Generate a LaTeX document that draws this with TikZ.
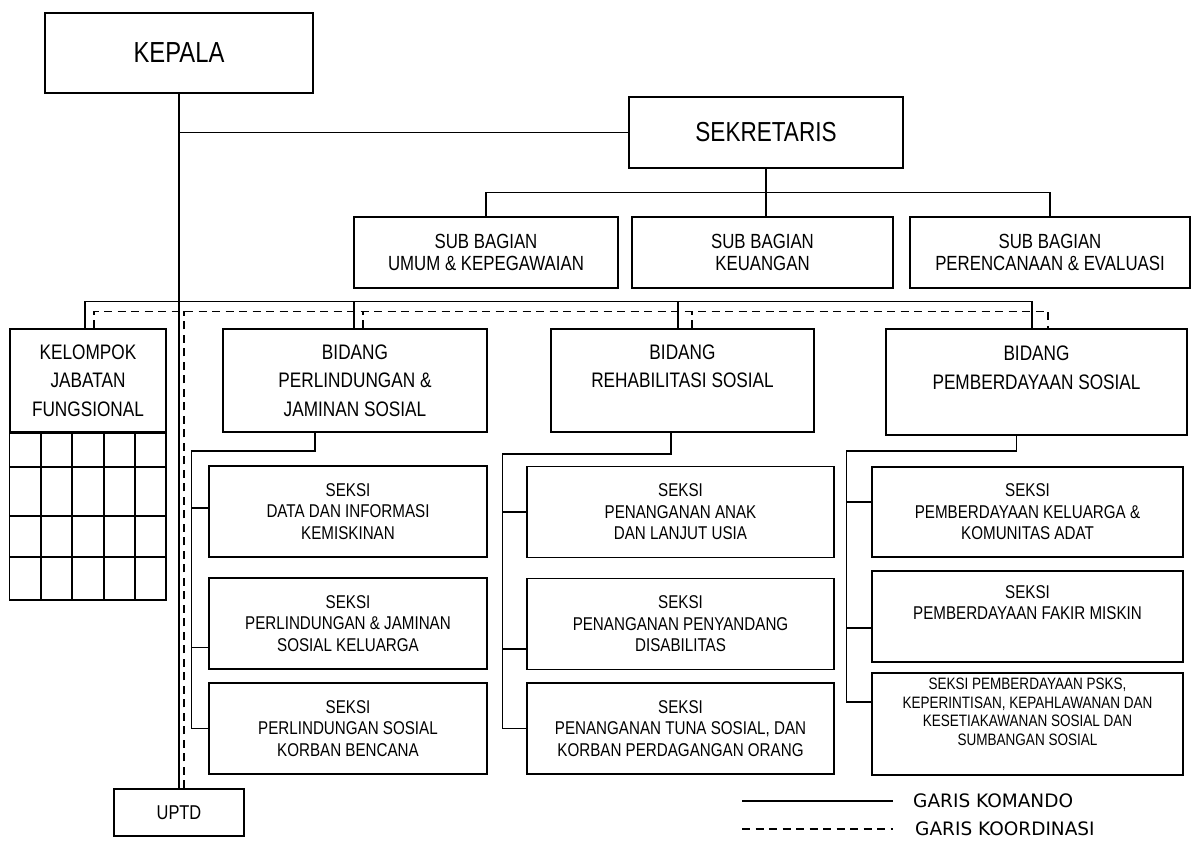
\documentclass[tikz,border=0pt]{standalone}
\usepackage{fontspec}
\setmainfont[FakeStretch=0.82]{Liberation Sans}
\newfontfamily\legfont{DejaVu Sans}
\usetikzlibrary{positioning}

\tikzset{
  box/.style={draw, line width=1.5pt, align=center, inner sep=0pt},
  kom/.style={line width=1.5pt},
  koor/.style={line width=1.5pt, dash pattern=on 8pt off 5.5pt},
  subbox/.style={box, minimum height=71pt, font=\fontsize{20.5}{22}\selectfont},
  bidbox/.style={box, minimum height=103pt, font=\fontsize{21}{28.5}\selectfont},
  sekbox/.style={box, minimum height=91pt, font=\fontsize{18.5}{21.5}\selectfont},
  legtext/.style={inner sep=0pt, font=\legfont\fontsize{18.5}{20}\selectfont}
}

\begin{document}
\begin{tikzpicture}[x=1pt,y=-1pt]
\useasboundingbox (0,0) rectangle (1194,841);

% pimpinan
\node[box, minimum width=268pt, minimum height=80pt, font=\fontsize{29}{30}\selectfont] (kepala) at (179,53) {KEPALA};
\node[box, minimum width=274pt, minimum height=71pt, font=\fontsize{27.5}{30}\selectfont] (sekr) at (766,132.5) {SEKRETARIS};

% sub bagian
\node[subbox, minimum width=264pt] (umum) at (486,252.5) {SUB BAGIAN\\UMUM \& KEPEGAWAIAN};
\node[subbox, minimum width=261pt] (keu) at (762.5,252.5) {SUB BAGIAN\\KEUANGAN};
\node[subbox, minimum width=280pt] (renc) at (1050,252.5) {SUB BAGIAN\\PERENCANAAN \& EVALUASI};

% bidang
\node[bidbox, minimum width=156pt] (kel) at (88,380.5) {KELOMPOK\\JABATAN\\FUNGSIONAL};
\node[bidbox, minimum width=264pt] (perl) at (355,380.5) {BIDANG\\PERLINDUNGAN \&\\JAMINAN SOSIAL};
\node[bidbox, minimum width=263pt] (rehab) at (682.5,380.5) {BIDANG\\REHABILITASI SOSIAL\\\rule{0pt}{1pt}};
\node[bidbox, minimum width=301pt, minimum height=106pt] (pemb) at (1036.5,382) {BIDANG\\PEMBERDAYAAN SOSIAL\\\rule{0pt}{1pt}};

% seksi
\node[sekbox, minimum width=278pt] (sA1) at (348,511.5) {SEKSI\\DATA DAN INFORMASI\\KEMISKINAN};
\node[sekbox, minimum width=278pt] (sA2) at (348,623.5) {SEKSI\\PERLINDUNGAN \& JAMINAN\\SOSIAL KELUARGA};
\node[sekbox, minimum width=278pt] (sA3) at (348,728.5) {SEKSI\\PERLINDUNGAN SOSIAL\\KORBAN BENCANA};
\node[sekbox, minimum width=307pt] (sB1) at (680.5,512) {SEKSI\\PENANGANAN ANAK\\DAN LANJUT USIA};
\node[sekbox, minimum width=307pt] (sB2) at (680.5,624) {SEKSI\\PENANGANAN PENYANDANG\\DISABILITAS};
\node[sekbox, minimum width=307pt] (sB3) at (680.5,728.5) {SEKSI\\PENANGANAN TUNA SOSIAL, DAN\\KORBAN PERDAGANGAN ORANG};
\node[sekbox, minimum width=311pt, minimum height=90pt] (sC1) at (1027.5,512) {SEKSI\\PEMBERDAYAAN KELUARGA \&\\KOMUNITAS ADAT};
\node[sekbox, minimum width=311pt] (sC2) at (1027.5,616.5) {SEKSI\\PEMBERDAYAAN FAKIR MISKIN\\\strut};
\node[sekbox, minimum width=311pt, minimum height=102pt, font=\fontsize{16.5}{18.5}\selectfont] (sC3) at (1027.5,724) {SEKSI PEMBERDAYAAN PSKS,\\KEPERINTISAN, KEPAHLAWANAN DAN\\KESETIAKAWANAN SOSIAL DAN\\SUMBANGAN SOSIAL\\\strut};

\node[box, minimum width=130pt, minimum height=47pt, font=\fontsize{20}{22}\selectfont] (uptd) at (179,812.5) {UPTD};

% kotak jabatan fungsional
\draw[kom] (kel.south west) rectangle (166,600);
\foreach \gx in {41,72,104,135}
  \draw[kom] (\gx,432) -- (\gx,600);
\foreach \gy in {467,516,557}
  \draw[kom] (10,\gy) -- (166,\gy);

% garis komando
\draw[kom] (kepala) -- (uptd);
\draw[kom] (kepala.south |- sekr.west) -- (sekr.west);
\draw[kom] (sekr.south) -- (sekr.south |- keu.north);
\draw[kom] (umum.north) -- ++(0,-24) -| (renc.north);
\draw[kom] ([xshift=-3pt]kel.north) -- ++(0,-27) -| ([xshift=-4.5pt]pemb.north);
\draw[kom] ([xshift=-1pt]perl.north) -- ++(0,-27);
\draw[kom] ([xshift=-4.5pt]rehab.north) -- ++(0,-27);

\draw[kom] ([xshift=-40pt]perl.south) -- ++(0,18) -| ([xshift=-17pt]sA3.west) -- (sA3.west);
\draw[kom] ([xshift=-17pt,yshift=3.5pt]sA1.west) -- ([yshift=3.5pt]sA1.west);
\draw[kom] ([xshift=-17pt,yshift=-24pt]sA2.west) -- ([yshift=-24pt]sA2.west);

\draw[kom] ([xshift=-11.5pt]rehab.south) -- ++(0,21) -| ([xshift=-24pt]sB3.west) -- (sB3.west);
\draw[kom] ([xshift=-24pt]sB1.west) -- (sB1.west);
\draw[kom] ([xshift=-24pt,yshift=-25pt]sB2.west) -- ([yshift=-25pt]sB2.west);

\draw[kom] ([xshift=-20pt]pemb.south) -- ++(0,15) -| ([xshift=-25pt,yshift=22pt]sC3.west) -- ([yshift=22pt]sC3.west);
\draw[kom] ([xshift=-25pt,yshift=10pt]sC1.west) -- ([yshift=10pt]sC1.west);
\draw[kom] ([xshift=-25pt,yshift=-11.5pt]sC2.west) -- ([yshift=-11.5pt]sC2.west);

% garis koordinasi
\draw[koor] ([xshift=6pt]kel.north) -- ++(0,-17) -| ([xshift=11.5pt]pemb.north);
\draw[koor] ([xshift=8pt]perl.north) -- ++(0,-17);
\draw[koor] ([xshift=9.5pt]rehab.north) -- ++(0,-17);
\draw[koor] ([xshift=5pt]uptd.north) -- ++(0,-477);

% keterangan
\coordinate (lk1) at (742,801);
\coordinate (lk2) at (893,801);
\coordinate (lc1) at (742,829);
\coordinate (lc2) at (893,829);
\draw[kom] (lk1) -- (lk2);
\draw[koor] (lc1) -- (lc2);
\node[legtext, right=20pt of lk2] (lkom) {GARIS KOMANDO};
\node[legtext, right=22pt of lc2] (lkoor) {GARIS KOORDINASI};
\end{tikzpicture}
\end{document}
